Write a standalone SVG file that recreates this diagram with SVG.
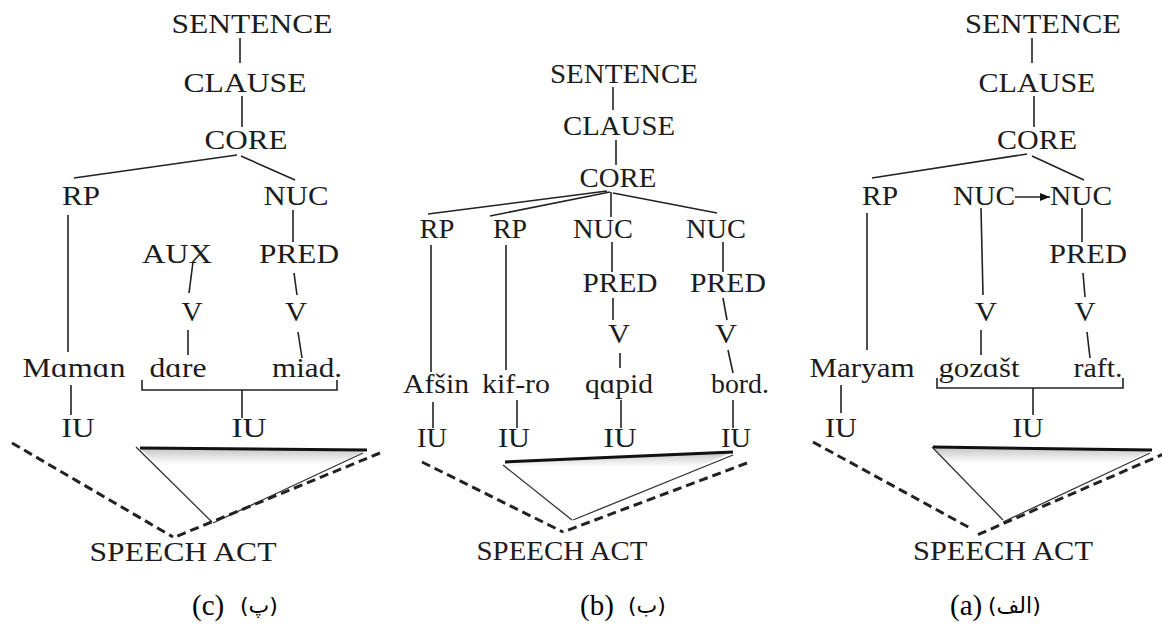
<svg xmlns="http://www.w3.org/2000/svg" width="1162" height="628" viewBox="0 0 1162 628">
<style>
.t{font-family:"Liberation Serif","Times New Roman",serif;font-size:27px;fill:#1c1c1c;text-anchor:middle}
.cap{font-family:"Liberation Serif","Times New Roman",serif;font-size:29px;fill:#000}
.fa{font-family:"DejaVu Sans",sans-serif;font-size:22px;fill:#000}
.ln{stroke:#222;stroke-width:1.6;fill:none}
.th{stroke:#111;stroke-width:3;fill:none}
.tn{stroke:#333;stroke-width:1.3;fill:none}
.ds{stroke:#222;stroke-width:3;fill:none;stroke-dasharray:9 5}
</style>
<defs>
<linearGradient id="shade" x1="0" y1="0" x2="0" y2="1">
<stop offset="0" stop-color="#c4c4c4"/>
<stop offset="0.22" stop-color="#fff"/>
<stop offset="1" stop-color="#fff"/>
</linearGradient>
<marker id="arr" markerWidth="10" markerHeight="8" refX="10" refY="4" orient="auto" markerUnits="userSpaceOnUse">
<path d="M0,0 L10,4 L0,8 Z" fill="#111"/>
</marker>
</defs>
<rect width="1162" height="628" fill="#fff"/>

<g id="shading">
<polygon points="140,448 367,450 213,522" fill="url(#shade)"/>
<polygon points="505,462 733,452 572,520" fill="url(#shade)"/>
<polygon points="933,447 1152,450 1003,520" fill="url(#shade)"/>
</g>

<g id="connectors">
<!-- panel c -->
<line class="ln" x1="240" y1="38" x2="240" y2="63"/>
<line class="ln" x1="242" y1="96" x2="242" y2="127"/>
<line class="ln" x1="237" y1="155" x2="74" y2="178"/>
<line class="ln" x1="241" y1="156" x2="295" y2="180"/>
<line class="ln" x1="68" y1="215" x2="68" y2="352"/>
<line class="ln" x1="293" y1="210" x2="293" y2="242"/>
<line class="ln" x1="193" y1="262" x2="189" y2="293"/>
<line class="ln" x1="294" y1="273" x2="297" y2="295"/>
<line class="ln" x1="188" y1="330" x2="188" y2="355"/>
<line class="ln" x1="298" y1="332" x2="302" y2="358"/>
<path class="ln" d="M142,380 V390 H337 V380"/>
<line class="ln" x1="242" y1="390" x2="242" y2="418"/>
<line class="ln" x1="71" y1="385" x2="71" y2="415"/>
<line class="th" x1="140" y1="448" x2="367" y2="450"/>
<line class="tn" x1="136" y1="447" x2="212" y2="522"/>
<line class="tn" x1="363" y1="453" x2="213" y2="523"/>
<line class="ds" x1="12" y1="443" x2="173" y2="537"/>
<line class="ds" x1="380" y1="453" x2="175" y2="537"/>
<!-- panel b -->
<line class="ln" x1="613" y1="87" x2="613" y2="110"/>
<line class="ln" x1="616" y1="140" x2="616" y2="165"/>
<line class="ln" x1="607" y1="191" x2="428" y2="214"/>
<line class="ln" x1="610" y1="192" x2="490" y2="216"/>
<line class="ln" x1="611" y1="192" x2="611" y2="217"/>
<line class="ln" x1="613" y1="193" x2="717" y2="213"/>
<line class="ln" x1="431" y1="245" x2="431" y2="372"/>
<line class="ln" x1="506" y1="245" x2="506" y2="370"/>
<line class="ln" x1="612" y1="242" x2="612" y2="272"/>
<line class="ln" x1="723" y1="242" x2="723" y2="272"/>
<line class="ln" x1="613" y1="298" x2="613" y2="320"/>
<line class="ln" x1="723" y1="298" x2="727" y2="320"/>
<line class="ln" x1="620" y1="353" x2="620" y2="368"/>
<line class="ln" x1="728" y1="350" x2="733" y2="373"/>
<line class="ln" x1="433" y1="402" x2="433" y2="428"/>
<line class="ln" x1="517" y1="400" x2="517" y2="428"/>
<line class="ln" x1="621" y1="400" x2="621" y2="428"/>
<line class="ln" x1="733" y1="400" x2="733" y2="428"/>
<line class="th" x1="505" y1="462" x2="733" y2="452"/>
<line class="tn" x1="503" y1="465" x2="572" y2="520"/>
<line class="tn" x1="733" y1="455" x2="573" y2="520"/>
<line class="ds" x1="422" y1="462" x2="563" y2="532"/>
<line class="ds" x1="747" y1="463" x2="563" y2="532"/>
<!-- panel a -->
<line class="ln" x1="1032" y1="38" x2="1032" y2="63"/>
<line class="ln" x1="1034" y1="96" x2="1034" y2="127"/>
<line class="ln" x1="1027" y1="154" x2="872" y2="178"/>
<line class="ln" x1="1032" y1="156" x2="1084" y2="180"/>
<line class="ln" x1="1015" y1="197" x2="1050" y2="197" marker-end="url(#arr)"/>
<line class="ln" x1="867" y1="213" x2="867" y2="350"/>
<line class="ln" x1="981" y1="208" x2="983" y2="295"/>
<line class="ln" x1="1082" y1="208" x2="1082" y2="242"/>
<line class="ln" x1="1083" y1="273" x2="1085" y2="297"/>
<line class="ln" x1="981" y1="330" x2="981" y2="355"/>
<line class="ln" x1="1087" y1="332" x2="1090" y2="358"/>
<path class="ln" d="M937,378 V388 H1123 V378"/>
<line class="ln" x1="1033" y1="388" x2="1033" y2="415"/>
<line class="ln" x1="841" y1="385" x2="841" y2="413"/>
<line class="th" x1="933" y1="447" x2="1152" y2="450"/>
<line class="tn" x1="932" y1="447" x2="1003" y2="520"/>
<line class="tn" x1="1150" y1="453" x2="1003" y2="522"/>
<line class="ds" x1="813" y1="442" x2="970" y2="528"/>
<line class="ds" x1="1166" y1="453" x2="977" y2="535"/>
</g>

<!-- panel c nodes -->
<g id="c-sentence"><text class="t" x="252" y="33" textLength="161" lengthAdjust="spacingAndGlyphs">SENTENCE</text></g>
<g id="c-clause"><text class="t" x="245" y="92" textLength="123" lengthAdjust="spacingAndGlyphs">CLAUSE</text></g>
<g id="c-core"><text class="t" x="246" y="149" textLength="83" lengthAdjust="spacingAndGlyphs">CORE</text></g>
<g id="c-rp"><text class="t" x="81" y="205" textLength="38" lengthAdjust="spacingAndGlyphs">RP</text></g>
<g id="c-nuc"><text class="t" x="296" y="205" textLength="65" lengthAdjust="spacingAndGlyphs">NUC</text></g>
<g id="c-aux"><text class="t" x="177" y="263" textLength="70" lengthAdjust="spacingAndGlyphs">AUX</text></g>
<g id="c-pred"><text class="t" x="299" y="263" textLength="80" lengthAdjust="spacingAndGlyphs">PRED</text></g>
<g id="c-v1"><text class="t" x="192" y="321" textLength="21" lengthAdjust="spacingAndGlyphs">V</text></g>
<g id="c-v2"><text class="t" x="296" y="321" textLength="22" lengthAdjust="spacingAndGlyphs">V</text></g>
<g id="c-maman"><text class="t" x="74" y="377" textLength="103" lengthAdjust="spacingAndGlyphs">Mɑmɑn</text></g>
<g id="c-dare"><text class="t" x="178" y="377" textLength="57" lengthAdjust="spacingAndGlyphs">dɑre</text></g>
<g id="c-miad"><text class="t" x="307" y="377" textLength="70" lengthAdjust="spacingAndGlyphs">miad.</text></g>
<g id="c-iu1"><text class="t" x="78" y="437" textLength="33" lengthAdjust="spacingAndGlyphs">IU</text></g>
<g id="c-iu2"><text class="t" x="249" y="437" textLength="35" lengthAdjust="spacingAndGlyphs">IU</text></g>
<g id="c-speech"><text class="t" x="183" y="561" textLength="187" lengthAdjust="spacingAndGlyphs">SPEECH ACT</text></g>
<g id="c-caption"><text class="cap" x="192" y="615">(c)</text><text class="fa" x="240" y="613">(پ)</text></g>

<!-- panel b nodes -->
<g id="b-sentence"><text class="t" x="624" y="83" textLength="148" lengthAdjust="spacingAndGlyphs">SENTENCE</text></g>
<g id="b-clause"><text class="t" x="619" y="135" textLength="112" lengthAdjust="spacingAndGlyphs">CLAUSE</text></g>
<g id="b-core"><text class="t" x="618" y="187" textLength="77" lengthAdjust="spacingAndGlyphs">CORE</text></g>
<g id="b-rp1"><text class="t" x="437" y="238" textLength="35" lengthAdjust="spacingAndGlyphs">RP</text></g>
<g id="b-rp2"><text class="t" x="510" y="238" textLength="34" lengthAdjust="spacingAndGlyphs">RP</text></g>
<g id="b-nuc1"><text class="t" x="603" y="238" textLength="60" lengthAdjust="spacingAndGlyphs">NUC</text></g>
<g id="b-nuc2"><text class="t" x="716" y="238" textLength="60" lengthAdjust="spacingAndGlyphs">NUC</text></g>
<g id="b-pred1"><text class="t" x="620" y="292" textLength="75" lengthAdjust="spacingAndGlyphs">PRED</text></g>
<g id="b-pred2"><text class="t" x="728" y="292" textLength="76" lengthAdjust="spacingAndGlyphs">PRED</text></g>
<g id="b-v1"><text class="t" x="619" y="343" textLength="22" lengthAdjust="spacingAndGlyphs">V</text></g>
<g id="b-v2"><text class="t" x="726" y="343" textLength="22" lengthAdjust="spacingAndGlyphs">V</text></g>
<g id="b-afsin"><text class="t" x="436" y="393" textLength="66" lengthAdjust="spacingAndGlyphs">Afšin</text></g>
<g id="b-kifro"><text class="t" x="516" y="393" textLength="68" lengthAdjust="spacingAndGlyphs">kif-ro</text></g>
<g id="b-qapid"><text class="t" x="619" y="393" textLength="68" lengthAdjust="spacingAndGlyphs">qɑpid</text></g>
<g id="b-bord"><text class="t" x="740" y="393" textLength="58" lengthAdjust="spacingAndGlyphs">bord.</text></g>
<g id="b-iu1"><text class="t" x="432" y="447" textLength="30" lengthAdjust="spacingAndGlyphs">IU</text></g>
<g id="b-iu2"><text class="t" x="514" y="447" textLength="32" lengthAdjust="spacingAndGlyphs">IU</text></g>
<g id="b-iu3"><text class="t" x="620" y="447" textLength="33" lengthAdjust="spacingAndGlyphs">IU</text></g>
<g id="b-iu4"><text class="t" x="736" y="447" textLength="30" lengthAdjust="spacingAndGlyphs">IU</text></g>
<g id="b-speech"><text class="t" x="562" y="560" textLength="171" lengthAdjust="spacingAndGlyphs">SPEECH ACT</text></g>
<g id="b-caption"><text class="cap" x="580" y="615">(b)</text><text class="fa" x="628" y="613">(ب)</text></g>

<!-- panel a nodes -->
<g id="a-sentence"><text class="t" x="1043" y="33" textLength="156" lengthAdjust="spacingAndGlyphs">SENTENCE</text></g>
<g id="a-clause"><text class="t" x="1037" y="92" textLength="117" lengthAdjust="spacingAndGlyphs">CLAUSE</text></g>
<g id="a-core"><text class="t" x="1037" y="149" textLength="80" lengthAdjust="spacingAndGlyphs">CORE</text></g>
<g id="a-rp"><text class="t" x="880" y="205" textLength="36" lengthAdjust="spacingAndGlyphs">RP</text></g>
<g id="a-nuc1"><text class="t" x="984" y="205" textLength="62" lengthAdjust="spacingAndGlyphs">NUC</text></g>
<g id="a-nuc2"><text class="t" x="1081" y="205" textLength="62" lengthAdjust="spacingAndGlyphs">NUC</text></g>
<g id="a-pred"><text class="t" x="1088" y="263" textLength="78" lengthAdjust="spacingAndGlyphs">PRED</text></g>
<g id="a-v1"><text class="t" x="986" y="321" textLength="22" lengthAdjust="spacingAndGlyphs">V</text></g>
<g id="a-v2"><text class="t" x="1085" y="321" textLength="21" lengthAdjust="spacingAndGlyphs">V</text></g>
<g id="a-maryam"><text class="t" x="862" y="377" textLength="105" lengthAdjust="spacingAndGlyphs">Maryam</text></g>
<g id="a-gozasht"><text class="t" x="979" y="377" textLength="81" lengthAdjust="spacingAndGlyphs">gozɑšt</text></g>
<g id="a-raft"><text class="t" x="1098" y="377" textLength="49" lengthAdjust="spacingAndGlyphs">raft.</text></g>
<g id="a-iu1"><text class="t" x="841" y="437" textLength="32" lengthAdjust="spacingAndGlyphs">IU</text></g>
<g id="a-iu2"><text class="t" x="1028" y="437" textLength="31" lengthAdjust="spacingAndGlyphs">IU</text></g>
<g id="a-speech"><text class="t" x="1003" y="560" textLength="180" lengthAdjust="spacingAndGlyphs">SPEECH ACT</text></g>
<g id="a-caption"><text class="cap" x="950" y="615">(a)</text><text class="fa" x="988" y="613">(الف)</text></g>
</svg>
